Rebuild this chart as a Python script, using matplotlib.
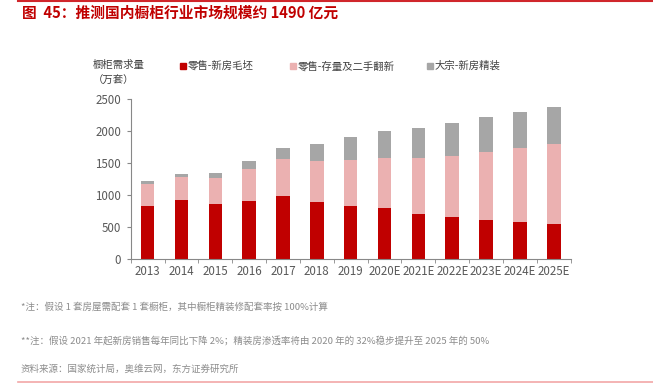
import matplotlib
matplotlib.use("Agg")
import matplotlib.pyplot as plt
import numpy as np
from matplotlib.patches import Rectangle
from matplotlib.lines import Line2D

plt.rcParams['font.family'] = ['Noto Sans CJK SC', 'DejaVu Sans']

years = ["2013", "2014", "2015", "2016", "2017", "2018", "2019",
         "2020E", "2021E", "2022E", "2023E", "2024E", "2025E"]
total_red = [833, 917, 859, 901, 984, 885, 823, 792, 708, 651, 609, 578, 547]
top_pink = [1172, 1276, 1266, 1411, 1568, 1536, 1552, 1583, 1583, 1620, 1677, 1745, 1802]
top_gray = [1214, 1328, 1339, 1531, 1745, 1802, 1917, 2010, 2052, 2135, 2224, 2307, 2375]

retail_rough = np.array(total_red)
retail_stock = np.array(top_pink) - retail_rough
bulk_fine = np.array(top_gray) - np.array(top_pink)

series_names = ["零售-新房毛坯", "零售-存量及二手翻新", "大宗-新房精装"]
colors = ["#C00000", "#EBB1B1", "#A6A6A6"]

W, H = 653, 386
fig = plt.figure(figsize=(W / 100, H / 100), dpi=100)

# axes placement (pixel coords)
x0, x1 = 130.7, 570.7
y_bot, y_top = 259, 99.3
ax = fig.add_axes([x0 / W, 1 - y_bot / H, (x1 - x0) / W, (y_bot - y_top) / H])

x = np.arange(len(years))
bw = 0.4
ax.bar(x, retail_rough, bw, color=colors[0], edgecolor="none")
ax.bar(x, retail_stock, bw, bottom=retail_rough, color=colors[1], edgecolor="none")
ax.bar(x, bulk_fine, bw, bottom=retail_rough + retail_stock, color=colors[2], edgecolor="none")

ax.set_xlim(-0.5, len(years) - 0.5)
ax.set_ylim(0, 2500)
ax.set_yticks([0, 500, 1000, 1500, 2000, 2500])
ax.set_xticks(x)
ax.set_xticklabels(years)
ax.set_xticks(np.arange(-0.5, len(years), 1.0), minor=True)
ax.tick_params(axis="x", which="major", length=0, pad=4, labelsize=8.3, labelcolor="#595959")
ax.tick_params(axis="x", which="minor", length=3, color="#888888", direction="out")
ax.tick_params(axis="y", length=3, color="#888888", labelsize=8.3, labelcolor="#595959", pad=4)
for s in ["top", "right"]:
    ax.spines[s].set_visible(False)
for s in ["left", "bottom"]:
    ax.spines[s].set_color("#888888")
    ax.spines[s].set_linewidth(0.8)

# title and lines
fig.add_artist(Line2D([18 / W, 1], [1 - 1.2 / H, 1 - 1.2 / H], color="#D0262B", lw=1.5))
fig.text(22 / W, 1 - 13 / H, "图  45：推测国内橱柜行业市场规模约 1490 亿元", color="#C00000",
         fontsize=10.6, fontweight="semibold", va="center", ha="left")

# y label
fig.text(93 / W, 1 - 65 / H, "橱柜需求量", color="#404040", fontsize=7.5, va="center", ha="left")
fig.text(93 / W, 1 - 81 / H, "（万套）", color="#404040", fontsize=7.5, va="center", ha="left")

# legend
leg_x = [180, 290, 427]
for lx, name, c in zip(leg_x, series_names, colors):
    fig.add_artist(Rectangle((lx / W, 1 - 68.5 / H), 5.5 / W, 5.5 / H, color=c, transform=fig.transFigure))
    fig.text((lx + 8) / W, 1 - 66 / H, name, color="#404040", fontsize=7.5, va="center", ha="left")

# footnotes
notes = [
    (307, "*注：假设 1 套房屋需配套 1 套橱柜，其中橱柜精装修配套率按 100%计算"),
    (341, "**注：假设 2021 年起新房销售每年同比下降 2%；精装房渗透率将由 2020 年的 32%稳步提升至 2025 年的 50%"),
    (369, "资料来源：国家统计局，奥维云网，东方证券研究所"),
]
for yy, t in notes:
    fig.text(21 / W, 1 - yy / H, t, color="#8C8C8C", fontsize=6.85, va="center", ha="left")

fig.add_artist(Line2D([18 / W, 1], [1 - 381.5 / H, 1 - 381.5 / H], color="#F2A7A7", lw=1.2))

fig.savefig("out.png", dpi=100)
